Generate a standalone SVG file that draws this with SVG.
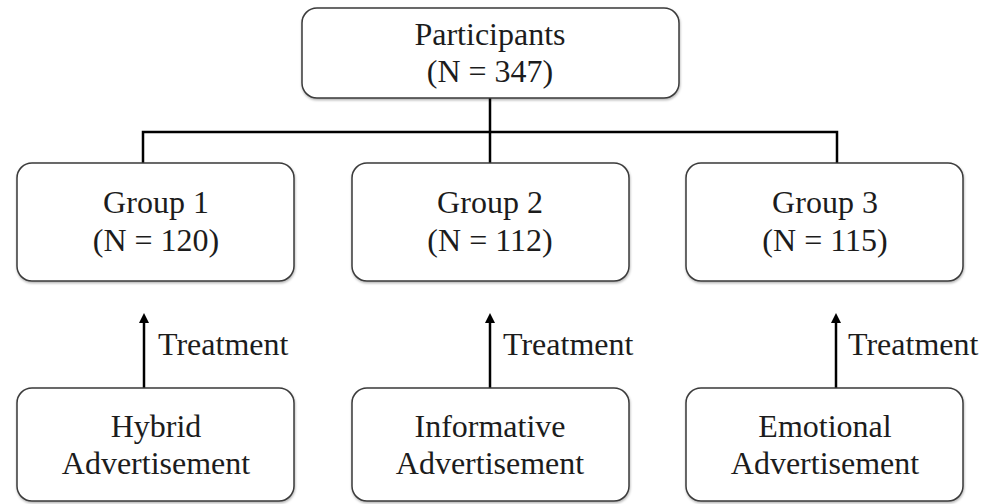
<svg xmlns="http://www.w3.org/2000/svg" width="991" height="504" viewBox="0 0 991 504">
  <style>
    .box { fill: #ffffff; stroke: #3a3a3a; stroke-width: 1.5; filter: url(#sh); }
    .lbl { font-family: "Liberation Serif", "Times New Roman", serif; font-size: 32px; fill: #1c1c1c; text-anchor: middle; }
    .tr { font-family: "Liberation Serif", "Times New Roman", serif; font-size: 32px; fill: #1c1c1c; }
    .ln { fill: none; stroke: #000000; stroke-width: 2.5; }
  </style>
  <defs>
    <filter id="sh" x="-5%" y="-5%" width="110%" height="115%">
      <feDropShadow dx="0.5" dy="1.5" stdDeviation="1" flood-color="#000" flood-opacity="0.3"/>
    </filter>
    <marker id="ah" markerWidth="10" markerHeight="10" refX="5" refY="5" orient="auto" markerUnits="userSpaceOnUse" viewBox="0 0 10 10">
      <path d="M0,0 L10,5 L0,10 Z" fill="#000"/>
    </marker>
  </defs>
  <rect width="991" height="504" fill="#ffffff"/>

  <g id="connectors">
    <path class="ln" d="M490,98 V163 M143,163 V132 H837 V163"/>
    <line class="ln" x1="144" y1="388" x2="144" y2="318" marker-end="url(#ah)"/>
    <line class="ln" x1="490" y1="388" x2="490" y2="318" marker-end="url(#ah)"/>
    <line class="ln" x1="836" y1="388" x2="836" y2="318" marker-end="url(#ah)"/>
    <text class="tr" x="158" y="355">Treatment</text>
    <text class="tr" x="503" y="355">Treatment</text>
    <text class="tr" x="848" y="355">Treatment</text>
  </g>

  <g id="participants">
    <rect class="box" x="302" y="8" width="377" height="90" rx="15"/>
    <text class="lbl" x="490" y="45">Participants</text>
    <text class="lbl" x="490" y="82">(N = 347)</text>
  </g>

  <g id="group1">
    <rect class="box" x="17" y="163" width="277" height="118" rx="15"/>
    <text class="lbl" x="156" y="213">Group 1</text>
    <text class="lbl" x="156" y="251">(N = 120)</text>
  </g>
  <g id="group2">
    <rect class="box" x="352" y="163" width="277" height="118" rx="15"/>
    <text class="lbl" x="490" y="213">Group 2</text>
    <text class="lbl" x="490" y="251">(N = 112)</text>
  </g>
  <g id="group3">
    <rect class="box" x="686" y="163" width="277" height="118" rx="15"/>
    <text class="lbl" x="825" y="213">Group 3</text>
    <text class="lbl" x="825" y="251">(N = 115)</text>
  </g>

  <g id="hybrid">
    <rect class="box" x="17" y="388" width="277" height="113" rx="15"/>
    <text class="lbl" x="156" y="437">Hybrid</text>
    <text class="lbl" x="156" y="474">Advertisement</text>
  </g>
  <g id="informative">
    <rect class="box" x="352" y="388" width="277" height="113" rx="15"/>
    <text class="lbl" x="490" y="437">Informative</text>
    <text class="lbl" x="490" y="474">Advertisement</text>
  </g>
  <g id="emotional">
    <rect class="box" x="686" y="388" width="277" height="113" rx="15"/>
    <text class="lbl" x="825" y="437">Emotional</text>
    <text class="lbl" x="825" y="474">Advertisement</text>
  </g>
</svg>
